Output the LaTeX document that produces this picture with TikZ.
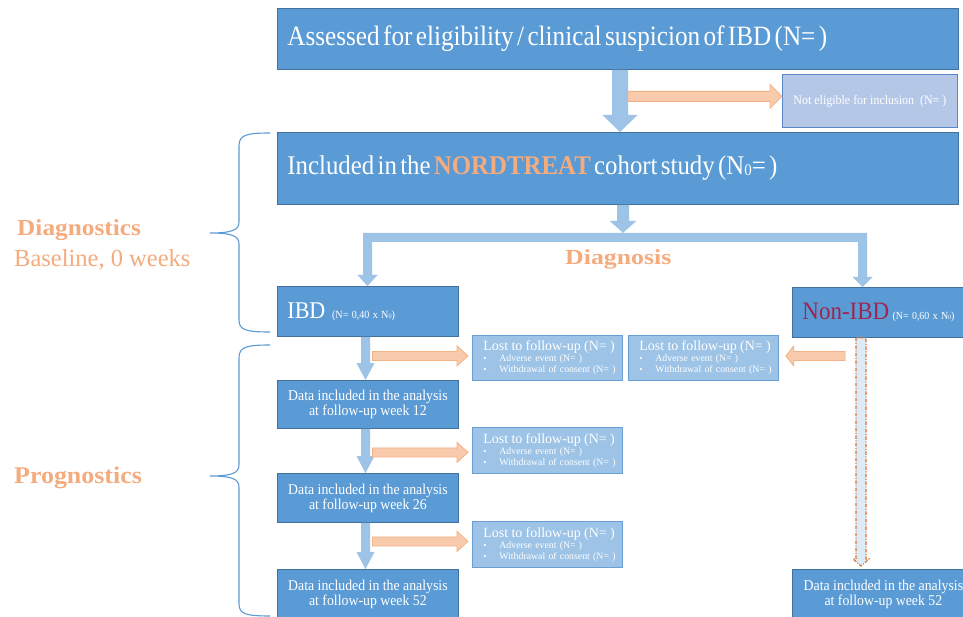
\documentclass[tikz,border=0pt]{standalone}
\usepackage{fontspec}
\setmainfont{Liberation Serif}
\newfontfamily\fA[FakeStretch=0.9]{Liberation Serif}
\newfontfamily\fB[FakeStretch=0.92]{Liberation Serif}
\newfontfamily\fC[FakeStretch=1.1]{Liberation Serif}
\newfontfamily\fD[FakeStretch=1.08]{Liberation Serif}
\newfontfamily\fE[FakeStretch=1.2]{Liberation Serif}
\newfontfamily\fF[FakeStretch=0.92]{Liberation Serif}
\usetikzlibrary{calc}
\definecolor{boxblue}{HTML}{5B9BD5}
\definecolor{boxedge}{HTML}{41719C}
\definecolor{arrowblue}{HTML}{9DC3E6}
\definecolor{lostfill}{HTML}{9DC3E6}
\definecolor{lostedge}{HTML}{6A9FD4}
\definecolor{nefill}{HTML}{B4C7E7}
\definecolor{needge}{HTML}{5A87C8}
\definecolor{orfill}{HTML}{F8CBAD}
\definecolor{oredge}{HTML}{F4B183}
\definecolor{ortext}{HTML}{F4AB7E}
\definecolor{nonred}{HTML}{A0244E}
\definecolor{dashor}{HTML}{E0702A}
\definecolor{dashfill}{HTML}{DDEBF7}
\newcommand\lbul{\makebox[16pt][l]{\fontsize{9pt}{9pt}\selectfont\textbullet}}
\newcommand\lostcontent{\mbox{\fontsize{14pt}{11pt}\selectfont Lost to follow-up (N= )}\\ \mbox{\lbul Adverse event (N= )}\\ \mbox{\lbul Withdrawal of consent (N= )}}
\newcommand\nsub{N{\fontsize{0.6em}{0.6em}\selectfont\raisebox{-0.05em}{0}}}
% #1 style, #2 from, #3 tip, #4 half shaft, #5 half head, #6 head length
\newcommand\bdown[6][fill=arrowblue]{\path[#1] let \p1=(#2), \p2=(#3) in
  (\x1-#4,\y1) -- (\x1-#4,\y2+#6) -- (\x1-#5,\y2+#6) -- (\x2,\y2) -- (\x1+#5,\y2+#6) -- (\x1+#4,\y2+#6) -- (\x1+#4,\y1) -- cycle;}
\newcommand\bright[6][orarrow]{\path[#1] let \p1=(#2), \p2=(#3) in
  (\x1,\y1+#4) -- (\x2-#6,\y1+#4) -- (\x2-#6,\y1+#5) -- (\x2,\y1) -- (\x2-#6,\y1-#5) -- (\x2-#6,\y1-#4) -- (\x1,\y1-#4) -- cycle;}
\newcommand\bleft[6][orarrow]{\path[#1] let \p1=(#2), \p2=(#3) in
  (\x1,\y1+#4) -- (\x2+#6,\y1+#4) -- (\x2+#6,\y1+#5) -- (\x2,\y1) -- (\x2+#6,\y1-#5) -- (\x2+#6,\y1-#4) -- (\x1,\y1-#4) -- cycle;}
\begin{document}
\begin{tikzpicture}[x=1pt,y=-1pt,
  mainbox/.style={draw=boxedge, line width=0.8pt, fill=boxblue, text=white, inner sep=0pt, anchor=north west},
  databox/.style={mainbox, minimum width=181pt, minimum height=48pt, align=center, font=\fF\fontsize{15pt}{15pt}\selectfont},
  lostbox/.style={draw=lostedge, line width=0.8pt, fill=lostfill, text=white, anchor=north west, inner sep=0pt,
     minimum width=150pt, minimum height=45pt, text width=128pt, align=left, font=\fontsize{9.8pt}{11pt}\selectfont},
  orarrow/.style={draw=oredge, fill=orfill, line width=0.8pt},
  lbl/.style={inner sep=0pt, anchor=base west, text=ortext},
  bracestyle/.style={draw=boxblue, line width=1.1pt}]
\fill[white] (0,0) rectangle (963,617);
\useasboundingbox (0,0) rectangle (963,617);

% boxes
\node[mainbox, minimum width=681pt, minimum height=61pt, text width=661pt, align=left] (top) at (277,8)
  {\fA\fontsize{28pt}{30pt}\selectfont Assessed for eligibility / clinical suspicion of IBD (N= )};
\node[draw=needge, line width=0.8pt, fill=nefill, text=white, inner sep=0pt, anchor=north west,
  minimum width=175pt, minimum height=53pt, font=\fF\fontsize{13pt}{14pt}\selectfont] (noteleg) at (782,74)
  {Not eligible for inclusion~~(N= )};
\node[mainbox, minimum width=681pt, minimum height=72pt, text width=661pt, align=left] (incl) at (277,132)
  {\fB\fontsize{27pt}{30pt}\selectfont Included in the {\bfseries\color{ortext}NORDTREAT} cohort study (\nsub= )};
\node[mainbox, minimum width=181pt, minimum height=50pt, text width=161pt, align=left] (ibd) at (277,286)
  {\fF\fontsize{24pt}{24pt}\selectfont IBD {\fontsize{11pt}{12pt}\selectfont\ (N= 0,40 x \nsub)}};
\node[mainbox, minimum width=182pt, minimum height=50pt, text width=162pt, align=left] (nonibd) at (792,287)
  {\fF\fontsize{25pt}{26pt}\selectfont\color{nonred}Non-IBD {\color{white}\fontsize{10.8pt}{12pt}\selectfont (N= 0,60 x \nsub)}};
\node[lostbox] (lost1) at (472,335) {\lostcontent};
\node[lostbox] (lost2) at (628,335) {\lostcontent};
\node[databox] (d12) at (277,380) {Data included in the analysis\\at follow-up week 12};
\node[lostbox, minimum height=46pt] (lost3) at (472,427) {\lostcontent};
\node[databox, minimum height=49pt] (d26) at (277,473) {Data included in the analysis\\at follow-up week 26};
\node[lostbox, minimum height=46pt] (lost4) at (472,521) {\lostcontent};
\node[databox, minimum height=50pt] (d52) at (277,569) {Data included in the analysis\\at follow-up week 52};
\node[databox, minimum width=182pt, minimum height=50pt] (nd52) at (792,569) {Data included in the analysis\\at follow-up week 52};

% labels
\node[lbl] (diag) at (17,236) {\fC\bfseries\fontsize{23pt}{24pt}\selectfont Diagnostics};
\node[lbl] (basel) at (14,267) {\fontsize{24.5pt}{28pt}\selectfont Baseline, 0 weeks};
\node[lbl] (prog) at (14,483) {\fD\bfseries\fontsize{24pt}{26pt}\selectfont Prognostics};
\node[lbl] (dgn) at (565,265) {\fE\bfseries\fontsize{21.5pt}{24pt}\selectfont Diagnosis};

% column coordinates
\coordinate (cTop) at (620,0);
\coordinate (cT) at (623,0);
\coordinate (legL) at (367.5,0);
\coordinate (legR) at (862.5,0);
\coordinate (colL) at (365.5,0);
\coordinate (colR) at (861,0);

% top arrow and not-eligible branch
\bdown{top.south -| cTop}{incl.north -| cTop}{8pt}{17.5pt}{17pt}
\bright{$(noteleg.west -| cTop)+(8,-4.5)$}{$(noteleg.west)+(0,-4.5)$}{5pt}{12pt}{12pt}

% T connector
\fill[arrowblue] let \p1=(ibd.north -| legL), \p2=(nonibd.north -| legR), \p3=(incl.south -| cT) in
 (\x3-6pt,\y3) -- (\x3-6pt,\y3-16pt) -- (\x3-13.5pt,\y3-16pt) -- (\x3,\y3-28pt) -- (\x3+13.5pt,\y3-16pt) -- (\x3+6pt,\y3-16pt) -- (\x3+6pt,\y3) -- cycle
 (\x1-4.5pt,\y3-28pt) -- (\x2+4.5pt,\y3-28pt) -- (\x2+4.5pt,\y2+10pt) -- (\x2+10pt,\y2+10pt) -- (\x2,\y2) -- (\x2-10pt,\y2+10pt) -- (\x2-4.5pt,\y2+10pt) -- (\x2-4.5pt,\y3-37pt) -- (\x1+4.5pt,\y3-37pt) -- (\x1+4.5pt,\y1+11pt) -- (\x1+10pt,\y1+11pt) -- (\x1,\y1) -- (\x1-10pt,\y1+11pt) -- (\x1-4.5pt,\y1+11pt) -- cycle;

% IBD column
\bdown{ibd.south -| colL}{d12.north -| colL}{4.5pt}{9pt}{17pt}
\bdown{d12.south -| colL}{d26.north -| colL}{4.5pt}{9pt}{17pt}
\bdown{d26.south -| colL}{d52.north -| colL}{4.5pt}{9pt}{17pt}
\bright{$(lost1.west -| colL)+(7,-2)$}{$(lost1.west)+(-4,-2)$}{4.5pt}{10pt}{11pt}
\bright{$(lost3.west -| colL)+(7,2)$}{$(lost3.west)+(-4,2)$}{4.5pt}{10pt}{11pt}
\bright{$(lost4.west -| colL)+(7,-3)$}{$(lost4.west)+(-4,-3)$}{4.5pt}{10pt}{11pt}

% Non-IBD column
\bleft{$(lost2.east -| colR)+(-16,-2)$}{$(lost2.east)+(7,-2)$}{4.5pt}{10pt}{8pt}
\bdown[draw=dashor, fill=dashfill, line width=1.1pt, dash pattern=on 3.5pt off 1.5pt on 1pt off 1.5pt]{nonibd.south -| colR}{$(nd52.north -| colR)+(0,-3)$}{5pt}{8pt}{7pt}

% braces
\draw[bracestyle] (270,133) .. controls (246,133) and (239,135) .. (239,146) -- (239,222)
  .. controls (239,230) and (232,233) .. (210,233)
  .. controls (232,233) and (239,236) .. (239,244) -- (239,320)
  .. controls (239,330) and (246,332) .. (270,332);
\draw[bracestyle] (270,345) .. controls (246,345) and (239,347) .. (239,358) -- (239,465)
  .. controls (239,473) and (232,476) .. (210,476)
  .. controls (232,476) and (239,479) .. (239,487) -- (239,604)
  .. controls (239,614) and (246,616) .. (270,616);
\end{tikzpicture}
\end{document}
